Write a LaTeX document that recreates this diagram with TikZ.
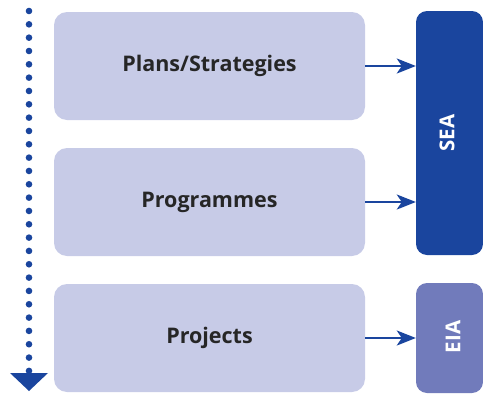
\documentclass[tikz,border=0pt]{standalone}
\usepackage{fontspec}
\setmainfont{Open Sans}
\usetikzlibrary{arrows.meta}
\definecolor{lavbox}{HTML}{C7CBE7}
\definecolor{seablue}{HTML}{1A459E}
\definecolor{eiablue}{HTML}{717BBB}
\begin{document}
\begin{tikzpicture}[x=1pt,y=-1pt,
  level/.style={rectangle,fill=lavbox,rounded corners=13pt,minimum width=311pt,
    minimum height=108pt,font=\fontsize{21.5}{24}\selectfont\bfseries,text=black!85},
  tag/.style={rectangle,rounded corners=11pt,minimum width=67pt,inner sep=0pt},
  tagtext/.style={rotate=90,text=white,font=\fontsize{20.5}{22}\selectfont\bfseries},
  feed/.style={draw=seablue,line width=2.4pt,-{Stealth[length=19pt,width=15pt,inset=5pt]}},
  dots/.style={draw=seablue,line width=6.6pt,line cap=round,dash pattern=on 0pt off 13.33pt,
    -{Triangle[length=18pt,width=38pt,line width=0pt]}}]
  \useasboundingbox (0,0) rectangle (483,394);

  % levels of decision making
  \node[level] (plans) at (209.5,66) {Plans/Strategies};
  \node[level] (progs) at (209.5,202) {Programmes};
  \node[level] (projs) at (209.5,338) {Projects};

  % assessment types
  \node[tag,fill=seablue,minimum height=244pt] (sea) at (449.5,133) {};
  \node[tag,fill=eiablue,minimum height=110pt] (eia) at (449.5,338) {};
  \node[tagtext] at (447,133) {SEA};
  \node[tagtext] at (453,337) {EIA};

  \draw[feed] (plans.east) -- (plans.east -| sea.west);
  \draw[feed] (progs.east) -- (progs.east -| sea.west);
  \draw[feed] (projs.east) -- (eia.west);

  % top-down order
  \coordinate (dtop) at (29,11);
  \coordinate (dbot) at (29,391);
  \path[dots] (dtop) -- (dbot);
\end{tikzpicture}
\end{document}
